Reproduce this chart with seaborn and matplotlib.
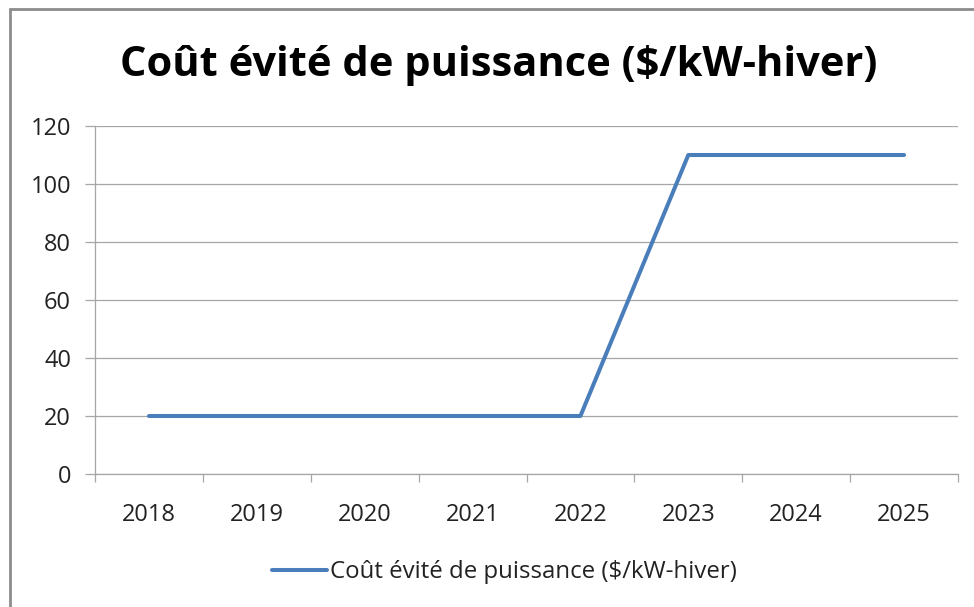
import matplotlib
matplotlib.use("Agg")
import matplotlib.pyplot as plt
import matplotlib.lines as mlines
import seaborn as sns
import pandas as pd
import numpy as np

years = ["2018", "2019", "2020", "2021", "2022", "2023", "2024", "2025"]
values = [20, 20, 20, 20, 20, 110, 110, 110]
series_name = "Coût évité de puissance ($/kW-hiver)"
title = "Coût évité de puissance ($/kW-hiver)"
yticks = [0, 20, 40, 60, 80, 100, 120]

sns.set_theme(style="white")
plt.rcParams['font.family'] = ['Open Sans', 'DejaVu Sans']

W, H = 974, 607
fig = plt.figure(figsize=(W / 100, H / 100), dpi=100)
ax = fig.add_axes([95 / W, (H - 474) / H, (958 - 95) / W, (474 - 126) / H])

df = pd.DataFrame({"Année": years, "Valeur": values, "Série": series_name})
sns.lineplot(data=df, x="Année", y="Valeur", hue="Série", palette=["#4A7EBB"],
             linewidth=2.9, ax=ax, sort=False)

ax.set_xlim(-0.5, len(years) - 0.5)
ax.set_ylim(0, 120)
ax.set_yticks(yticks)
ax.set_yticklabels([str(v) for v in yticks])
ax.set_xticks(range(len(years)))
ax.set_xticklabels(years)
ax.set_xticks(np.arange(-0.5, len(years), 1.0), minor=True)
ax.set_xlabel("")
ax.set_ylabel("")

grid_c = "#A6A6A6"
ax.grid(axis="y", color=grid_c, linewidth=0.9)
ax.grid(axis="x", visible=False)
for s in ["top", "right"]:
    ax.spines[s].set_visible(False)
for s in ["left", "bottom"]:
    ax.spines[s].set_color(grid_c)
    ax.spines[s].set_linewidth(0.9)

ax.tick_params(axis="y", which="major", direction="out", length=7.2, width=0.9,
               color=grid_c, labelsize=17, labelcolor="#222222", pad=10, left=True)
ax.tick_params(axis="x", which="major", length=0, labelsize=17, labelcolor="#222222", pad=21)
ax.tick_params(axis="x", which="minor", direction="out", length=6, width=0.9,
               color=grid_c, bottom=True)

leg = ax.legend(loc="upper center", bbox_to_anchor=(0.474, -0.185), frameon=False,
                fontsize=17.3, handlelength=2.3, handletextpad=0.12)
for t in leg.get_texts():
    t.set_color("#222222")

fig.text(499 / W, (H - 66) / H, title, ha="center", va="center", fontsize=30,
         fontweight="bold", color="black")

border_c = "#8C8C8C"
fig.add_artist(mlines.Line2D([10 / W, 10 / W], [0, (H - 9) / H], color=border_c,
                             linewidth=2, transform=fig.transFigure))
fig.add_artist(mlines.Line2D([10 / W, 1], [(H - 9) / H, (H - 9) / H], color=border_c,
                             linewidth=2, transform=fig.transFigure))

fig.savefig("out.png", dpi=100)
